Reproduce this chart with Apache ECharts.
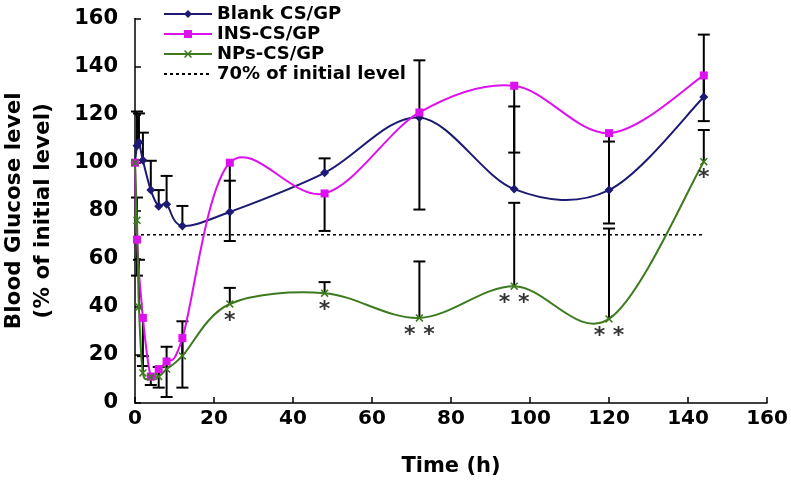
<!DOCTYPE html>
<html>
<head>
<meta charset="utf-8">
<script src="https://cdn.jsdelivr.net/npm/echarts@6/dist/echarts.min.js"></script>
<style>html,body{margin:0;padding:0;background:#fff;}#c{width:791px;height:488px;}</style>
</head>
<body>
<div id="c"></div>
<script>
// ---- data ----
const times = [0, 0.5, 1, 2, 4, 6, 8, 12, 24, 48, 72, 96, 120, 144];
const blank = [100, 107, 108.5, 101, 88.6, 81.9, 82.7, 73.7, 79.5, 95.8, 118.8, 89, 88.6, 127.3];
const ins   = [100, 68, null, 35.4, 11, 14.1, 17.3, 27, 100, 87.2, 120.9, 132, 112.3, 136.3];
const nps   = [100, 76, 40, 12.5, 10.8, 11, 14.1, 19.6, 41.2, 45.7, 35.4, 48.6, 35, 100.4];
// one-sided error bars as drawn: Blank upward, INS downward, NPs upward
const blankErrUp = [0, 14.3, 12, 11.5, 12.2, 6.7, 11.8, 8.3, 13, 6, 23.8, 34.4, 20.2, 26];
const insErrDown = [0, 15, null, 20, 3.5, 7.7, 14.8, 20.6, 32.6, 15.6, 40.4, 27.8, 37.6, 19];
const npsErrUp   = [0, 9.5, 19.6, 7, 0, 4, 9.3, 14.4, 6.7, 4.6, 23.5, 34.7, 37.6, 13.2];
const sigMarks   = ['', '', '', '', '', '', '', '', '*', '*', '* *', '* *', '* *', '*'];
const refLevel = 70;
const refRange = [0, 144];
const xTicks = {min: 0, max: 160, interval: 20};
const yTicks = {min: 0, max: 160, interval: 20};
const names = ['Blank CS/GP', 'INS-CS/GP', 'NPs-CS/GP', '70% of initial level'];

// ---- build ----
const FONT = 'DejaVu Sans';
function pairs(vals) {
  const out = [];
  times.forEach((t, i) => { if (vals[i] != null) out.push([t, vals[i]]); });
  return out;
}
function errPairs(vals, errs, dir) {
  const out = [];
  times.forEach((t, i) => {
    if (vals[i] != null && errs[i] != null && errs[i] > 0) out.push([t, vals[i], vals[i] + dir * errs[i]]);
  });
  return out;
}
function errItem(params, api) {
  const x = api.value(0);
  const p1 = api.coord([x, api.value(1)]);
  const p2 = api.coord([x, api.value(2)]);
  const w = 6;
  return {
    type: 'group',
    children: [
      {type: 'line', shape: {x1: p1[0], y1: p1[1], x2: p2[0], y2: p2[1]}, style: {stroke: '#000', lineWidth: 2}},
      {type: 'line', shape: {x1: p2[0] - w, y1: p2[1], x2: p2[0] + w, y2: p2[1]}, style: {stroke: '#000', lineWidth: 2}}
    ]
  };
}
// smooth curve (Catmull-Rom style bezier, like a spreadsheet "smoothed line")
function curveSeries(id, vals, color, z) {
  const pts = pairs(vals);
  return {
    name: id, type: 'custom', data: pts, z: z, encode: {x: 0, y: 1}, silent: true,
    renderItem: function (params, api) {
      const i = params.dataIndex;
      if (i >= pts.length - 1) return {type: 'group', children: []};
      const c = k => api.coord(pts[Math.max(0, Math.min(pts.length - 1, k))]);
      const p0 = c(i - 1), p1 = c(i), p2 = c(i + 1), p3 = c(i + 2);
      const t = 1 / 6;
      return {
        type: 'bezierCurve',
        shape: {
          x1: p1[0], y1: p1[1], x2: p2[0], y2: p2[1],
          cpx1: p1[0] + (p2[0] - p0[0]) * t, cpy1: p1[1] + (p2[1] - p0[1]) * t,
          cpx2: p2[0] - (p3[0] - p1[0]) * t, cpy2: p2[1] - (p3[1] - p1[1]) * t
        },
        style: {stroke: color, lineWidth: 2, fill: null}
      };
    }
  };
}
const xPath = 'path://M0,1.4L1.4,0L5,3.6L8.6,0L10,1.4L6.4,5L10,8.6L8.6,10L5,6.4L1.4,10L0,8.6L3.6,5Z';
const C_BLANK = '#1c1a72', C_INS = '#dd10ee', C_NPS = '#3d7a1f';

const sigData = [];
times.forEach((t, i) => { if (sigMarks[i]) sigData.push({value: [t, nps[i]], label: {formatter: sigMarks[i]}}); });

function markerSeries(name, vals, color, symbol, size, z) {
  return {
    name: name, type: 'line', data: pairs(vals), connectNulls: true,
    symbol: symbol, symbolSize: size, showAllSymbol: true,
    lineStyle: {color: color, width: 2, opacity: 0}, itemStyle: {color: color}, z: z
  };
}

const chart = echarts.init(document.getElementById('c'), null, {renderer: 'canvas'});
chart.setOption({
  animation: false,
  backgroundColor: '#fff',
  textStyle: {fontFamily: FONT},
  grid: {left: 135, right: 24, top: 18.5, bottom: 85, containLabel: false, outerBoundsMode: 'none'},
  legend: {
    data: [names[0], names[1], names[2], {name: names[3], itemStyle: {opacity: 0}}],
    orient: 'vertical',
    left: 163, top: 4, padding: 0,
    itemWidth: 48, itemHeight: 10, itemGap: 0,
    lineStyle: {opacity: 1},
    textStyle: {fontFamily: FONT, fontWeight: 'bold', fontSize: 18, color: '#000', lineHeight: 20}
  },
  xAxis: {
    type: 'value', min: xTicks.min, max: xTicks.max, interval: xTicks.interval,
    name: 'Time (h)', nameLocation: 'middle', nameGap: 53,
    nameTextStyle: {fontFamily: FONT, fontWeight: 'bold', fontSize: 21, color: '#000'},
    axisLine: {lineStyle: {color: '#000', width: 1.5}},
    axisTick: {inside: true, length: 6, lineStyle: {color: '#000', width: 1.5}},
    axisLabel: {margin: 6, fontFamily: FONT, fontWeight: 'bold', fontSize: 20, color: '#000'},
    splitLine: {show: false}
  },
  yAxis: {
    type: 'value', min: yTicks.min, max: yTicks.max, interval: yTicks.interval,
    name: 'Blood Glucose level\n(% of initial level)', nameLocation: 'middle', nameRotate: 90, nameGap: 77,
    nameTextStyle: {fontFamily: FONT, fontWeight: 'bold', fontSize: 21.5, color: '#000', lineHeight: 29},
    axisLine: {show: true, lineStyle: {color: '#000', width: 1.5}},
    axisTick: {show: true, inside: true, length: 6, lineStyle: {color: '#000', width: 1.5}},
    axisLabel: {margin: 17, fontFamily: FONT, fontWeight: 'bold', fontSize: 21, color: '#000'},
    splitLine: {show: false}
  },
  series: [
    {name: 'errBlank', type: 'custom', renderItem: errItem, data: errPairs(blank, blankErrUp, 1), z: 1, encode: {x: 0, y: [1, 2]}},
    {name: 'errIns', type: 'custom', renderItem: errItem, data: errPairs(ins, insErrDown, -1), z: 1, encode: {x: 0, y: [1, 2]}},
    {name: 'errNps', type: 'custom', renderItem: errItem, data: errPairs(nps, npsErrUp, 1), z: 1, encode: {x: 0, y: [1, 2]}},
    {
      name: names[3], type: 'line', data: [[refRange[0], refLevel], [refRange[1], refLevel]],
      symbol: 'none', lineStyle: {color: '#000', width: 1.5, type: [3, 3]}, itemStyle: {color: '#000'}, z: 2
    },
    curveSeries('curveBlank', blank, C_BLANK, 3),
    curveSeries('curveIns', ins, C_INS, 3),
    curveSeries('curveNps', nps, C_NPS, 3),
    markerSeries(names[0], blank, C_BLANK, 'diamond', 9, 4),
    markerSeries(names[1], ins, C_INS, 'rect', 8, 5),
    markerSeries(names[2], nps, C_NPS, xPath, 8, 6),
    {
      name: 'sig', type: 'scatter', data: sigData, symbolSize: 0, z: 7,
      label: {show: true, position: 'bottom', distance: 6, fontFamily: FONT, fontWeight: 'bold', fontSize: 22, color: '#000'}
    }
  ]
});
</script>
</body>
</html>
